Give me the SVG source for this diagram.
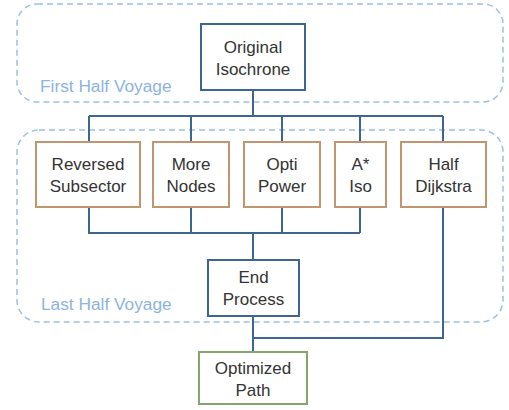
<svg xmlns="http://www.w3.org/2000/svg" width="509" height="410" viewBox="0 0 509 410">
<style>
.grp{fill:none;stroke:#9dc0e4;stroke-width:1.5;stroke-dasharray:6 4}
.glabel{font-family:"Liberation Sans",Arial,sans-serif;font-size:17.3px;fill:#8db4e0}
.box{fill:#fff;stroke-width:2}
.blue{stroke:#3d6690}
.orange{stroke:#c09670}
.green{stroke:#86a56e}
.t{font-family:"Liberation Sans",Arial,sans-serif;font-size:17px;fill:#333;text-anchor:middle}
.c{fill:none;stroke:#3d6690;stroke-width:2}
</style>
<rect class="grp" x="17" y="4" width="486" height="98" rx="20"/>
<text class="glabel" x="40" y="92">First Half Voyage</text>
<rect class="grp" x="17" y="130" width="486" height="192" rx="22"/>
<text class="glabel" x="41" y="310">Last Half Voyage</text>
<g id="connectors">
<path class="c" d="M253 90V116M89 116H443M89 116V142M191 116V142M282 116V142M360 116V142M443 116V142"/>
<path class="c" d="M89 207V233H360M191 207V233M282 207V233M360 207V233M253 233V260"/>
<path class="c" d="M253 316V352M443 207V338H253"/>
</g>
<g id="original-isochrone">
<rect class="box blue" x="201" y="24" width="104" height="66"/>
<text class="t" x="253" y="53">Original</text>
<text class="t" x="253" y="75">Isochrone</text>
</g>
<g id="reversed-subsector">
<rect class="box orange" x="36" y="142" width="104" height="65"/>
<text class="t" x="88" y="170">Reversed</text>
<text class="t" x="88" y="192">Subsector</text>
</g>
<g id="more-nodes">
<rect class="box orange" x="153" y="142" width="76" height="65"/>
<text class="t" x="191" y="170">More</text>
<text class="t" x="191" y="192">Nodes</text>
</g>
<g id="opti-power">
<rect class="box orange" x="244" y="142" width="76" height="65"/>
<text class="t" x="282" y="170">Opti</text>
<text class="t" x="282" y="192">Power</text>
</g>
<g id="a-star-iso">
<rect class="box orange" x="335" y="142" width="51" height="65"/>
<text class="t" x="360.5" y="170">A*</text>
<text class="t" x="360.5" y="192">Iso</text>
</g>
<g id="half-dijkstra">
<rect class="box orange" x="401" y="142" width="85" height="65"/>
<text class="t" x="443.5" y="170">Half</text>
<text class="t" x="443.5" y="192">Dijkstra</text>
</g>
<g id="end-process">
<rect class="box blue" x="208" y="260" width="91" height="56"/>
<text class="t" x="253.5" y="283">End</text>
<text class="t" x="253.5" y="305">Process</text>
</g>
<g id="optimized-path">
<rect class="box green" x="199" y="352" width="108" height="52"/>
<text class="t" x="253" y="374">Optimized</text>
<text class="t" x="253" y="396">Path</text>
</g>
</svg>
